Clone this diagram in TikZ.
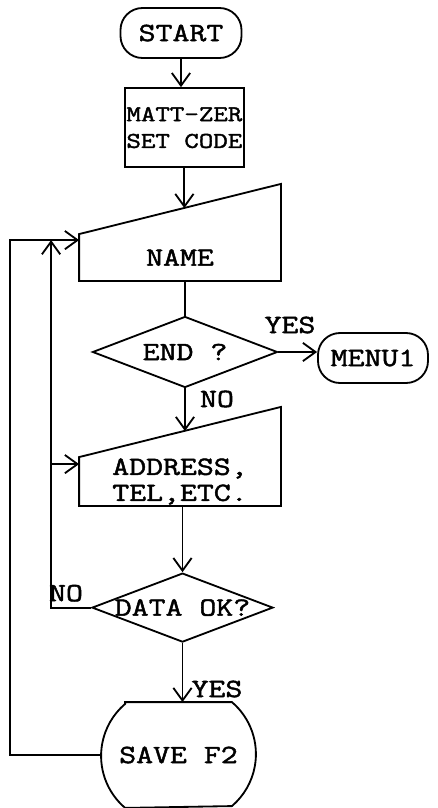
\documentclass[tikz,border=0pt]{standalone}
\usepackage{fontspec}
\setmonofont[FakeStretch=1.25,FakeBold=1.8]{Latin Modern Mono}
\usetikzlibrary{positioning,shapes.geometric,arrows.meta,calc}

\begin{document}
\begin{tikzpicture}[
    line width=1.3pt,
    >={Straight Barb[length=9pt,width=13pt]},
    every node/.style={font=\ttfamily\fontsize{18.7}{19}\selectfont},
    term/.style={draw,rectangle,rounded corners=0.55cm,inner sep=0pt,minimum height=1.25cm},
    proc/.style={draw,rectangle,inner sep=0pt,align=center},
    manin/.style={rectangle,inner sep=0pt,minimum width=5cm,align=center},
    decision/.style={draw,diamond,aspect=2.6,inner sep=0pt},
    lbl/.style={inner sep=0pt}
  ]
        \useasboundingbox (0,0) rectangle (10.95,-20.2);

        \node [term,minimum width=3.025cm] at (4.525,-0.825) (start) {START};
        \node [proc,minimum width=2.975cm,minimum height=1.975cm,font=\ttfamily\fontsize{16}{19}\selectfont] at (4.61,-3.19) (setcode) {MATT-ZER\\SET CODE};

        \node [manin,minimum height=1.125cm] at (4.5,-6.4375) (name) {NAME};
        \draw (name.south west) -- (name.south east) -- ++(0,2.425) -- (name.north west) -- cycle;
        \coordinate (name-top) at ($(name.north west)!0.5!([yshift=1.3cm]name.north east)$);

        \node [decision,minimum width=4.625cm,minimum height=1.775cm] at (4.625,-8.8) (endq) {END ?};
        \node [term,minimum width=2.75cm] at (9.325,-8.95) (menu) {MENU1};

        \node [manin,minimum height=1.175cm,font=\ttfamily\fontsize{18.7}{18.5}\selectfont] at (4.5,-12.0375) (addr) {ADDRESS,\\TEL,ETC.};
        \draw (addr.south west) -- (addr.south east) -- ++(0,2.475) -- (addr.north west) -- cycle;
        \coordinate (addr-top) at ($(addr.north west)!0.5!([yshift=1.3cm]addr.north east)$);

        \node [decision,minimum width=4.525cm,minimum height=1.725cm] at (4.5625,-15.19) (dataok) {DATA OK?};

        \node [rectangle,inner sep=0pt,minimum width=3.825cm,minimum height=2.6cm] at (4.4625,-18.875) (save) {SAVE F2};
        \draw ([xshift=0.6cm]save.north west) -- ([xshift=-0.6cm]save.north east)
              arc [start angle=49.56,end angle=-49.56,radius=1.708cm]
              -- ([xshift=0.6cm]save.south west)
              arc [start angle=229.56,end angle=130.44,radius=1.708cm] -- cycle;

        \node [lbl] at (7.25,-8.125) (yes1) {YES};
        \node [lbl] at (5.425,-9.975) (no1) {NO};
        \node [lbl] at (1.65,-14.83) (no2) {NO};
        \node [lbl] at (5.425,-17.225) (yes2) {YES};

        \coordinate (name-in) at ([yshift=-0.15cm]name.north west);
        \coordinate (inner-top) at ([xshift=-0.7cm]name-in);
        \coordinate (addr-in) at ([yshift=-0.175cm]addr.north west);

        \draw [->] (start.south) -- (start.south |- setcode.north);
        \draw [->] (setcode.south) -- (setcode.south |- name-top);
        \draw (endq.north |- name.south) -- (endq.north);
        \draw [->] (endq.east) -- (endq.east -| menu.west);
        \draw [->] (endq.south) -- (endq.south |- addr-top);
        \draw [->] (dataok.north |- addr.south) -- (dataok.north);
        \draw [->] (dataok.south) -- (dataok.south |- save.north);
        \draw [->] (dataok.west) -| (inner-top);
        \draw [->] (inner-top |- addr-in) -- (addr-in);
        \draw [->] (save.west) -- ++(-2.275,0) |- (name-in);
      \end{tikzpicture}
\end{document}
